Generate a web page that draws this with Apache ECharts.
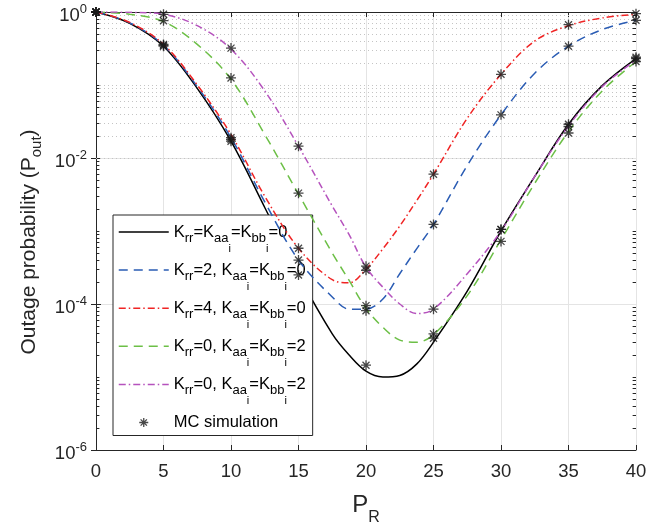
<!DOCTYPE html>
<html><head><meta charset="utf-8">
<script src="https://cdn.jsdelivr.net/npm/echarts@6.0.0/dist/echarts.min.js"></script>
<style>html,body{margin:0;padding:0;background:#fff}#c{width:670px;height:527px}</style>
</head><body><div id="c"></div>
<script>
// ---- data ----
const xCurve = [0, 2.5, 5, 7.5, 10, 12.5, 15, 17.5, 18.75, 20, 21.25, 22.5, 23.75, 25, 27.5, 30, 32.5, 35, 37.5, 40];
const curveK0 = [1, 0.70, 0.34, 0.090, 0.017, 0.0021, 2.5e-4, 3.9e-5, 2.0e-5, 1.2e-5, 1.0e-5, 1.05e-5, 1.5e-5, 3.0e-5, 1.5e-4, 1.0e-3, 5.6e-3, 0.029, 0.098, 0.23];
const curveKrr2 = [1, 0.71, 0.35, 0.095, 0.019, 0.0025, 4.0e-4, 1.25e-4, 8.5e-5, 8.5e-5, 1.17e-4, 2.6e-4, 5.7e-4, 1.23e-3, 7.9e-3, 0.039, 0.145, 0.34, 0.575, 0.77];
const curveKrr4 = [1, 0.72, 0.36, 0.10, 0.021, 0.0030, 5.8e-4, 2.15e-4, 1.95e-4, 3.0e-4, 5.7e-4, 1.17e-3, 2.6e-3, 6.0e-3, 0.035, 0.14, 0.40, 0.65, 0.83, 0.93];
const curveKaa2a = [1, 0.93, 0.74, 0.36, 0.12, 0.021, 3.2e-3, 5.0e-4, 2.1e-4, 8.7e-5, 4.8e-5, 3.2e-5, 3.0e-5, 3.8e-5, 1.3e-4, 7.6e-4, 4.5e-3, 0.023, 0.083, 0.21];
const curveKaa2b = [1, 0.99, 0.93, 0.65, 0.31, 0.083, 0.0145, 2.2e-3, 8.9e-4, 3.2e-4, 1.7e-4, 1.0e-4, 7.4e-5, 8.5e-5, 2.6e-4, 1.0e-3, 5.6e-3, 0.0275, 0.095, 0.22];

const mcX = [0, 5, 10, 15, 20, 25, 30, 35, 40];
const mcK0 = [1, 0.34, 0.017, 2.5e-4, 1.45e-5, 3.4e-5, 1.05e-3, 0.029, 0.23];
const mcKrr2 = [1, 0.35, 0.018, 4.0e-4, 9.5e-5, 1.23e-3, 0.039, 0.34, 0.77];
const mcKrr4 = [1, 0.36, 0.019, 5.8e-4, 2.9e-4, 6.0e-3, 0.14, 0.67, 0.95];
const mcKaa2a = [1, 0.76, 0.125, 3.3e-3, 8.1e-5, 3.9e-5, 7.2e-4, 0.022, 0.21];
const mcKaa2b = [1, 0.93, 0.32, 0.0145, 3.3e-4, 8.5e-5, 1.05e-3, 0.027, 0.24];

const seriesNames = ['Krr=Kaai=Kbbi=0', 'Krr=2, Kaai=Kbbi=0', 'Krr=4, Kaai=Kbbi=0', 'Krr=0, Kaai=Kbbi=2', 'Krr=0, Kaai=Kbbi=2 ', 'MC simulation'];
const legendLabels = [
  '{n|K}{s|rr}{n|=K}{s|aa}{t|i}{n|=K}{s|bb}{t|i}{n|=0}',
  '{n|K}{s|rr}{n|=2, K}{s|aa}{t|i}{n|=K}{s|bb}{t|i}{n|=0}',
  '{n|K}{s|rr}{n|=4, K}{s|aa}{t|i}{n|=K}{s|bb}{t|i}{n|=0}',
  '{n|K}{s|rr}{n|=0, K}{s|aa}{t|i}{n|=K}{s|bb}{t|i}{n|=2}',
  '{n|K}{s|rr}{n|=0, K}{s|aa}{t|i}{n|=K}{s|bb}{t|i}{n|=2}',
  '{n|MC simulation}'
];

// ---- styling ----
const FONT = 'Liberation Sans, Arial, Helvetica, sans-serif';
const AX = '#262626';
const colors = ['#000000', '#2a5cb4', '#f02424', '#6cbf46', '#b552bd'];
const dashes = ['solid', [9, 6], [7, 3, 1.5, 3], [9, 6], [7, 3, 1.5, 3]];
const curves = [curveK0, curveKrr2, curveKrr4, curveKaa2a, curveKaa2b];
const mcs = [mcK0, mcKrr2, mcKrr4, mcKaa2a, mcKaa2b];
const ASTER = 'path://M5,0L5,10M0,5L10,5M1.5,1.5L8.5,8.5M1.5,8.5L8.5,1.5';
const MC_STYLE = { color: 'rgba(0,0,0,0)', borderColor: '#1a1a1a', borderWidth: 1.3 };

// minor grid values (log decoration)
const minorVals = [];
for (let k = -6; k <= -1; k++) {
  for (let m = 1; m <= 9; m++) {
    if (m === 1 && k % 2 === 0) continue;
    minorVals.push(m * Math.pow(10, k));
  }
}
const markData = [];
minorVals.forEach(v => {
  markData.push({ yAxis: v, lineStyle: { type: [1, 3], color: '#c4c4c4', width: 1 } });
  markData.push([{ coord: [0, v], lineStyle: { type: 'solid', color: AX, width: 1 } }, { coord: [0.25, v] }]);
  markData.push([{ coord: [39.75, v], lineStyle: { type: 'solid', color: AX, width: 1 } }, { coord: [40, v] }]);
});

const series = curves.map((ys, i) => ({
  name: seriesNames[i],
  type: 'line',
  data: xCurve.map((x, j) => [x, ys[j]]),
  symbol: 'none',
  smooth: 0.35,
  lineStyle: { color: colors[i], width: 1.5, type: dashes[i] },
  itemStyle: { color: colors[i] },
  z: 3 + i
}));
series[0].markLine = {
  silent: true, symbol: ['none', 'none'], label: { show: false }, z: 1,
  animation: false, emphasis: { disabled: true }, data: markData
};
const mcData = [];
mcs.forEach(arr => arr.forEach((v, j) => mcData.push([mcX[j], v])));
series.push({
  name: seriesNames[5], type: 'scatter', data: mcData,
  symbol: ASTER, symbolSize: 10, z: 10,
  itemStyle: MC_STYLE
});

const expLabel = v => {
  const e = Math.round(Math.log10(v));
  return '{b|10}{e|' + e + '}';
};

const option = {
  animation: false,
  textStyle: { fontFamily: FONT },
  grid: { left: 96, right: 34, top: 12, bottom: 77, containLabel: false, outerBoundsMode: 'none' },
  legend: {
    orient: 'vertical', left: 113, top: 215,
    itemWidth: 50, itemHeight: 9, itemGap: 3.6,
    padding: [5, 7, 1, 5],
    backgroundColor: '#ffffff', borderColor: AX, borderWidth: 1,
    data: seriesNames.map((n, i) => i < 5
      ? { name: n, itemStyle: { opacity: 0 },
          lineStyle: { color: colors[i], width: 1.5, type: dashes[i], opacity: 1 } }
      : { name: n, itemStyle: MC_STYLE }),
    formatter: name => legendLabels[seriesNames.indexOf(name)],
    textStyle: {
      color: '#000', lineHeight: 24,
      rich: {
        n: { fontSize: 16.5, color: '#000', fontFamily: FONT },
        s: { fontSize: 13, color: '#000', fontFamily: FONT, padding: [13, 0, 0, 0] },
        t: { fontSize: 11, color: '#000', fontFamily: FONT, padding: [34, 0, 0, 0] }
      }
    }
  },
  xAxis: [{
    type: 'value', min: 0, max: 40, interval: 5, position: 'bottom',
    axisLine: { lineStyle: { color: AX, width: 1 } },
    axisTick: { inside: true, length: 5, lineStyle: { color: AX } },
    axisLabel: { fontSize: 18.5, color: AX, margin: 12, fontFamily: FONT },
    splitLine: { show: true, lineStyle: { color: '#e4e4e4', width: 1 } },
    name: '{p|P}{r|R}', nameLocation: 'middle', nameGap: 35,
    nameTextStyle: {
      color: AX,
      rich: {
        p: { fontSize: 24, color: AX, fontFamily: FONT },
        r: { fontSize: 16, color: AX, fontFamily: FONT, padding: [25, 0, 0, 0] }
      }
    }
  }, {
    type: 'value', min: 0, max: 40, interval: 5, position: 'top',
    axisLine: { show: true, lineStyle: { color: AX, width: 1 } },
    axisTick: { show: true, inside: true, length: 5, lineStyle: { color: AX } },
    axisLabel: { show: false }, splitLine: { show: false }
  }],
  yAxis: [{
    type: 'log', logBase: 10, min: 1e-6, max: 1, interval: 2, position: 'left',
    axisLine: { show: true, lineStyle: { color: AX, width: 1 } },
    axisTick: { show: true, inside: true, length: 5, lineStyle: { color: AX } },
    minorTick: { show: false },
    axisLabel: {
      formatter: expLabel, margin: 9, color: AX,
      rich: {
        b: { fontSize: 18.5, color: AX, fontFamily: FONT, padding: [8, 0, 0, 0] },
        e: { fontSize: 13, color: AX, fontFamily: FONT, padding: [0, 0, 5, 0] }
      }
    },
    splitLine: { show: true, lineStyle: { color: '#e4e4e4', width: 1 } },
    name: '{n|Outage probability (P}{s|out}{n|)}', nameLocation: 'middle', nameGap: 36,
    nameTextStyle: {
      color: AX, padding: [0, 22, 0, 0],
      rich: {
        n: { fontSize: 21, color: AX, fontFamily: FONT },
        s: { fontSize: 15, color: AX, fontFamily: FONT, padding: [14, 0, 0, 0] }
      }
    }
  }, {
    type: 'log', logBase: 10, min: 1e-6, max: 1, interval: 2, position: 'right',
    axisLine: { show: true, lineStyle: { color: AX, width: 1 } },
    axisTick: { show: true, inside: true, length: 5, lineStyle: { color: AX } },
    axisLabel: { show: false }, splitLine: { show: false }
  }],
  series: series
};

const chart = echarts.init(document.getElementById('c'), null, { renderer: 'canvas' });
chart.setOption(option);
</script>
</body></html>
